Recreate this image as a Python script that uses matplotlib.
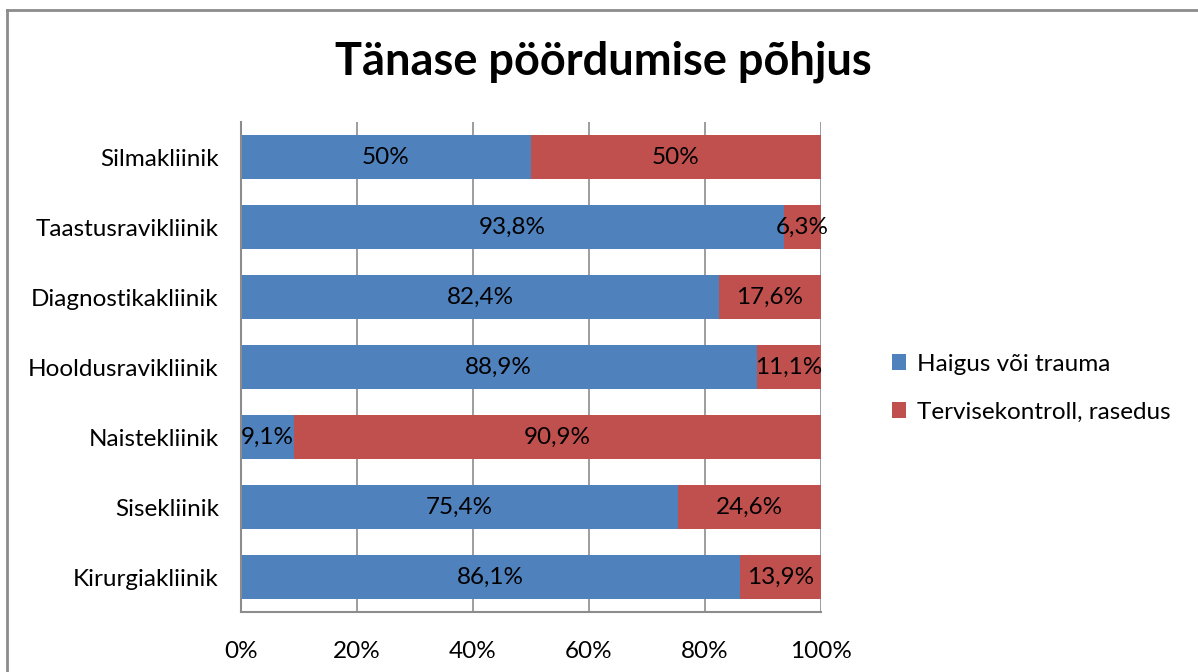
import numpy as np
import matplotlib.pyplot as plt
import matplotlib as mpl

plt.rcParams['font.family'] = ['Lato', 'DejaVu Sans']

categories = ['Kirurgiakliinik', 'Sisekliinik', 'Naistekliinik', 'Hooldusravikliinik',
              'Diagnostikakliinik', 'Taastusravikliinik', 'Silmakliinik']
haigus = [86.1, 75.4, 9.1, 88.9, 82.4, 93.8, 50]
tervis = [13.9, 24.6, 90.9, 11.1, 17.6, 6.3, 50]
series_names = ['Haigus või trauma', 'Tervisekontroll, rasedus']
colors = ['#4F81BD', '#C0504D']
xticks = [0, 20, 40, 60, 80, 100]

def fmt(v):
    return f'{v:g}'.replace('.', ',') + '%'

fig = plt.figure(figsize=(11.98, 6.72), dpi=100)
ax = fig.add_axes([241/1198, 1 - 612/672, 580/1198, 490/672])

h = np.array(haigus)
t = np.array(tervis)
tot = h + t
hs = h / tot * 100
ts = t / tot * 100
y = np.arange(len(categories))

b1 = ax.barh(y, hs, height=0.63, color=colors[0], label=series_names[0])
b2 = ax.barh(y, ts, left=hs, height=0.63, color=colors[1], label=series_names[1])
for i in range(len(categories)):
    ax.text(hs[i] / 2, y[i], fmt(haigus[i]), ha='center', va='center', fontsize=17.5)
    ax.text(hs[i] + ts[i] / 2, y[i], fmt(tervis[i]), ha='center', va='center', fontsize=17.5)

ax.set_xlim(0, 100)
ax.set_ylim(-0.5, len(categories) - 0.5)
ax.set_xticks(xticks)
ax.xaxis.set_major_formatter(mpl.ticker.PercentFormatter(decimals=0))
ax.set_yticks(y)
ax.set_yticklabels(categories)
ax.tick_params(axis='both', length=0, labelsize=17.5)
ax.tick_params(axis='x', pad=21)
ax.tick_params(axis='y', pad=16)
ax.grid(axis='x', color='#8c8c8c', lw=1.2)
ax.set_axisbelow(True)
for s in ['top', 'right']:
    ax.spines[s].set_visible(False)
for s in ['left', 'bottom']:
    ax.spines[s].set_color('#8c8c8c')
    ax.spines[s].set_linewidth(1.5)

fig.text(603/1198, 1 - 62/672, 'Tänase pöördumise põhjus', ha='center', va='center',
         fontsize=32.5, fontweight='bold')

fig.legend(handles=[b1, b2], loc='center left', bbox_to_anchor=(870/1198, 1 - 388/672),
           frameon=False, fontsize=17.5, handlelength=0.6, handleheight=0.6,
           handletextpad=0.45, labelspacing=1.1)

# outer border of the chart area
fig.add_artist(plt.Line2D([6.5/1198, 6.5/1198], [0, 1 - 9.5/672], color='#8c8c8c', lw=2,
                          transform=fig.transFigure))
fig.add_artist(plt.Line2D([6.5/1198, 1], [1 - 9.5/672, 1 - 9.5/672], color='#8c8c8c', lw=2,
                          transform=fig.transFigure))

fig.savefig('out.png', dpi=100)
